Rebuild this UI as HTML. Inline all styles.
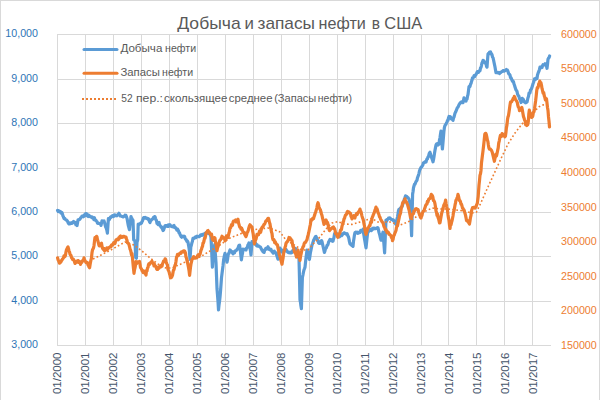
<!DOCTYPE html>
<html><head><meta charset="utf-8"><title>chart</title>
<style>html,body{margin:0;padding:0;background:#fff;width:600px;height:400px;overflow:hidden}body{font-family:"Liberation Sans",sans-serif}</style>
</head><body>
<svg width="600" height="400" viewBox="0 0 600 400" style="position:absolute;left:0;top:0">
<rect x="0.5" y="0.5" width="599" height="400" fill="#fff" stroke="#d9d9d9" stroke-width="1"/>
<g stroke="#d9d9d9" stroke-width="1" fill="none"><line x1="57" y1="34.50" x2="551" y2="34.50"/><line x1="57" y1="79.50" x2="551" y2="79.50"/><line x1="57" y1="123.50" x2="551" y2="123.50"/><line x1="57" y1="168.50" x2="551" y2="168.50"/><line x1="57" y1="212.50" x2="551" y2="212.50"/><line x1="57" y1="256.50" x2="551" y2="256.50"/><line x1="57" y1="301.50" x2="551" y2="301.50"/><line x1="57" y1="345.50" x2="551" y2="345.50"/><line x1="57.50" y1="34.0" x2="57.50" y2="346.0"/><line x1="85.50" y1="34.0" x2="85.50" y2="346.0"/><line x1="113.50" y1="34.0" x2="113.50" y2="346.0"/><line x1="141.50" y1="34.0" x2="141.50" y2="346.0"/><line x1="169.50" y1="34.0" x2="169.50" y2="346.0"/><line x1="197.50" y1="34.0" x2="197.50" y2="346.0"/><line x1="225.50" y1="34.0" x2="225.50" y2="346.0"/><line x1="253.50" y1="34.0" x2="253.50" y2="346.0"/><line x1="281.50" y1="34.0" x2="281.50" y2="346.0"/><line x1="309.50" y1="34.0" x2="309.50" y2="346.0"/><line x1="337.50" y1="34.0" x2="337.50" y2="346.0"/><line x1="365.50" y1="34.0" x2="365.50" y2="346.0"/><line x1="393.50" y1="34.0" x2="393.50" y2="346.0"/><line x1="421.50" y1="34.0" x2="421.50" y2="346.0"/><line x1="448.50" y1="34.0" x2="448.50" y2="346.0"/><line x1="476.50" y1="34.0" x2="476.50" y2="346.0"/><line x1="504.50" y1="34.0" x2="504.50" y2="346.0"/><line x1="532.50" y1="34.0" x2="532.50" y2="346.0"/></g>
<polyline points="57.6,210.5 58.1,211.4 58.7,210.7 59.2,211.6 59.8,211.4 60.4,211.5 60.9,213.0 61.5,212.7 62.0,212.6 62.5,214.3 63.0,216.1 63.5,216.9 64.0,218.5 64.6,218.3 65.1,219.0 65.7,219.7 66.2,219.9 66.8,220.3 67.3,220.8 67.9,222.2 68.4,223.3 69.0,224.0 69.6,224.0 70.1,223.0 70.7,223.2 71.3,223.2 71.9,223.4 72.4,222.4 73.0,222.0 73.6,221.5 74.1,222.5 74.7,222.1 75.3,222.7 75.9,224.7 76.4,223.8 77.0,225.6 77.5,223.0 78.0,219.9 78.6,219.8 79.1,219.6 79.7,219.5 80.3,218.5 80.9,217.6 81.4,217.0 82.0,216.2 82.5,216.4 83.0,215.9 83.5,216.7 84.0,215.1 84.6,214.8 85.1,214.7 85.6,213.8 86.1,215.7 86.6,213.7 87.1,214.6 87.7,214.9 88.2,216.5 88.8,215.1 89.3,216.5 89.9,216.2 90.5,216.5 91.0,216.5 91.6,217.5 92.1,217.0 92.7,217.6 93.3,218.2 93.9,219.6 94.4,217.7 95.0,219.5 95.5,220.4 96.0,220.4 96.5,221.2 97.0,221.5 97.5,223.2 98.0,223.5 98.5,223.3 99.0,223.4 99.5,223.5 100.0,223.8 100.5,223.6 101.0,225.4 101.5,223.1 102.0,220.8 102.5,221.6 103.0,221.6 103.5,221.6 104.0,220.9 104.6,222.7 105.1,224.8 105.7,227.1 106.3,228.3 106.8,229.9 107.4,233.1 107.9,226.2 108.4,218.7 108.9,220.0 109.4,219.4 109.9,218.2 110.4,217.2 111.0,217.5 111.5,216.7 112.0,216.1 112.5,215.6 113.0,215.6 113.5,216.5 114.1,215.8 114.6,214.8 115.2,215.6 115.7,215.4 116.3,215.6 116.8,215.8 117.4,214.9 117.9,214.5 118.5,214.2 119.0,213.3 119.6,214.6 120.1,215.9 120.7,216.0 121.3,216.1 121.9,216.4 122.4,216.6 123.0,216.9 123.5,216.7 124.0,216.2 124.5,216.1 125.0,215.1 125.5,215.7 126.0,215.5 126.6,217.3 127.1,218.7 127.7,222.1 128.3,225.6 128.8,227.3 129.4,229.6 129.9,225.2 130.5,221.5 131.0,216.5 131.5,218.2 132.0,218.5 132.5,219.8 133.0,220.2 133.7,240.0 134.3,240.1 135.0,241.2 135.7,257.5 136.4,258.2 137.0,242.2 137.7,239.7 138.2,224.1 138.8,224.6 139.4,224.2 140.0,223.8 140.5,223.2 141.0,223.4 141.5,223.0 142.0,221.6 142.5,220.8 143.0,219.2 143.5,217.7 144.0,217.5 144.6,218.0 145.1,217.4 145.7,217.8 146.3,218.4 146.9,218.2 147.4,218.5 148.0,219.3 148.5,218.8 149.0,220.3 149.5,221.6 150.0,222.5 150.5,220.7 151.0,220.6 151.5,219.5 152.0,219.5 152.5,219.1 153.0,218.3 153.5,217.4 154.0,217.0 154.5,217.6 155.0,216.6 155.5,218.4 156.0,219.9 156.5,220.7 157.0,223.4 157.5,223.1 158.0,224.5 158.5,222.9 159.0,222.4 159.5,224.5 160.0,225.4 160.5,226.0 161.0,227.0 161.5,226.8 162.0,228.2 162.5,229.0 163.0,230.5 163.5,230.1 164.0,228.7 164.5,227.5 165.0,225.7 165.6,225.5 166.1,225.7 166.7,225.5 167.2,226.2 167.8,225.2 168.3,226.4 168.9,225.0 169.4,225.7 170.0,224.8 170.6,226.2 171.1,226.0 171.7,226.3 172.3,226.8 172.9,226.3 173.4,226.0 174.0,225.5 174.6,227.6 175.1,227.5 175.7,227.8 176.3,228.5 176.9,230.2 177.4,229.0 178.0,229.9 178.5,231.0 179.0,232.7 179.5,232.8 180.0,234.4 180.6,235.5 181.1,236.6 181.7,237.2 182.3,236.2 182.9,236.5 183.4,236.7 184.0,236.2 184.6,236.5 185.1,238.4 185.7,239.3 186.3,239.8 186.9,241.3 187.4,241.0 188.0,242.2 188.7,246.1 189.3,250.0 190.0,259.3 190.8,247.2 191.4,245.0 191.9,242.8 192.4,241.5 193.0,238.3 193.5,238.6 194.0,238.3 194.5,237.6 195.0,237.8 195.5,236.9 196.0,237.6 196.6,236.5 197.1,236.2 197.7,236.4 198.3,236.7 198.9,236.7 199.4,236.6 200.0,235.8 200.6,234.9 201.1,235.4 201.7,235.3 202.3,234.4 202.9,235.1 203.4,234.8 204.0,233.9 204.6,234.3 205.1,233.3 205.7,233.1 206.2,233.7 206.8,232.7 207.3,233.1 207.9,232.4 208.4,233.2 209.0,232.6 209.5,233.9 210.0,234.1 210.5,235.4 211.0,237.3 211.5,247.4 211.9,256.1 212.4,267.2 212.9,259.1 213.5,250.0 214.1,248.4 214.7,244.7 215.3,253.3 216.0,262.6 216.5,275.8 217.0,288.7 217.5,294.8 218.0,301.4 218.5,309.8 219.0,305.1 219.5,301.5 220.0,297.0 220.5,291.3 221.0,284.6 221.5,277.6 222.0,273.6 222.5,269.8 223.0,265.9 223.7,259.2 224.3,256.2 225.0,253.4 225.5,254.9 226.0,258.1 226.5,259.6 227.0,262.1 227.5,259.7 228.0,256.0 228.5,253.5 229.0,253.3 229.5,251.4 230.0,250.0 230.5,250.5 231.0,251.4 231.5,251.3 232.0,252.3 232.5,252.9 233.0,253.8 233.5,252.0 234.0,252.9 234.5,252.7 235.0,251.0 235.5,250.7 236.0,250.7 236.5,250.4 237.0,249.4 237.5,249.3 238.1,247.9 238.6,246.3 239.1,245.3 239.6,245.2 240.2,249.4 240.8,254.7 241.4,259.8 241.9,256.3 242.5,253.2 243.0,249.2 243.5,249.4 244.0,249.3 244.5,249.5 245.0,249.2 245.5,249.9 246.0,250.0 246.5,248.3 247.0,247.6 247.5,246.6 248.0,244.8 248.5,244.3 249.0,242.9 249.5,246.2 250.0,248.5 250.5,250.9 251.0,255.0 251.5,248.2 252.0,241.5 252.6,242.0 253.1,243.1 253.7,242.9 254.3,243.8 254.9,243.5 255.4,242.9 256.0,244.1 256.6,245.8 257.1,244.8 257.7,246.2 258.3,245.9 258.9,246.1 259.4,246.6 260.0,247.1 260.5,247.1 261.0,248.2 261.5,249.2 262.0,250.3 262.5,250.1 263.0,251.8 263.6,252.1 264.1,252.4 264.7,250.0 265.2,249.8 265.8,248.3 266.3,248.8 266.9,248.9 267.4,247.7 268.0,246.8 268.6,248.2 269.1,249.4 269.7,249.3 270.3,250.0 270.9,249.2 271.4,250.3 272.0,251.7 272.6,252.1 273.1,253.2 273.7,252.1 274.3,251.1 274.9,252.4 275.4,252.4 276.0,253.0 276.5,254.7 277.0,256.0 277.5,257.8 278.0,259.2 278.5,255.0 279.0,252.8 279.5,251.6 280.0,248.2 280.5,249.3 281.0,249.6 281.5,249.8 282.0,251.6 282.5,252.3 283.0,252.2 283.5,252.3 284.0,250.8 284.5,250.4 285.0,250.9 285.5,250.5 286.0,249.4 286.6,250.5 287.1,251.1 287.7,252.1 288.3,252.6 288.9,252.3 289.4,252.4 290.0,252.8 290.5,252.3 291.0,252.8 291.5,252.8 292.0,252.3 292.5,251.3 293.0,250.2 293.5,250.4 294.0,249.7 294.5,249.7 295.0,248.4 295.5,248.5 296.0,249.6 296.5,250.1 297.0,251.0 297.5,253.0 298.0,255.8 298.5,257.7 299.0,258.3 299.5,278.8 300.0,299.9 300.5,302.4 300.9,305.8 301.4,308.7 301.9,292.5 302.4,277.3 302.9,275.1 303.4,272.5 304.0,269.8 304.5,268.6 305.0,267.2 305.5,262.3 306.0,257.9 306.5,254.2 307.0,250.0 307.6,252.0 308.2,255.6 308.8,257.1 309.4,259.4 309.9,256.2 310.4,252.8 311.0,249.9 311.5,247.4 312.0,244.9 312.6,243.6 313.1,242.0 313.7,240.0 314.3,239.1 314.9,237.6 315.4,236.8 316.0,236.5 316.5,237.6 317.0,238.7 317.5,239.5 318.0,241.1 318.5,242.7 319.0,243.4 319.5,243.0 320.0,243.3 320.5,241.6 321.0,241.4 321.5,240.6 322.0,241.5 322.6,244.3 323.2,247.0 323.8,249.7 324.4,252.4 324.9,251.1 325.4,248.8 326.0,248.2 326.5,247.5 327.0,245.3 327.5,245.2 328.0,244.5 328.5,242.3 329.0,241.4 329.5,240.6 330.0,239.5 330.5,240.2 331.0,239.6 331.5,240.1 332.0,240.6 332.5,241.3 333.0,241.2 333.5,238.9 334.0,237.4 334.5,234.0 335.0,233.1 335.6,233.4 336.1,233.3 336.7,234.1 337.3,234.0 337.9,234.1 338.4,235.5 339.0,236.2 339.6,236.7 340.1,235.7 340.7,234.7 341.3,234.3 341.9,235.5 342.4,234.7 343.0,233.7 343.6,233.2 344.1,232.8 344.7,233.1 345.3,233.5 345.9,234.0 346.4,234.1 347.0,233.6 347.5,234.7 348.0,236.1 348.5,236.9 349.0,239.1 349.5,241.9 350.0,243.7 350.5,244.4 351.0,243.9 351.5,245.2 352.0,245.6 352.5,245.8 353.0,246.3 353.5,241.3 354.0,238.2 354.5,234.6 355.0,232.7 355.6,232.3 356.1,232.1 356.7,232.8 357.3,232.1 357.9,233.4 358.4,232.7 359.0,232.9 359.6,232.0 360.1,232.4 360.7,230.5 361.3,231.2 361.9,230.3 362.4,230.3 363.0,229.2 363.5,232.7 364.0,235.7 364.5,238.9 365.0,241.7 365.5,244.7 366.0,247.8 366.5,243.1 367.0,238.3 367.5,234.0 368.0,231.0 368.6,230.5 369.1,231.0 369.7,230.4 370.3,229.3 370.9,229.9 371.4,230.6 372.0,229.4 372.5,228.5 373.1,228.2 373.6,229.0 374.2,228.4 374.7,228.2 375.3,228.7 375.8,228.5 376.4,228.4 376.9,227.9 377.5,227.6 378.0,227.9 378.5,230.1 379.0,232.4 379.5,233.9 380.0,236.1 380.5,238.3 381.0,240.2 381.5,238.4 382.0,236.8 382.5,234.4 383.0,232.2 383.5,238.5 384.1,246.0 384.6,252.9 385.1,241.8 385.5,230.4 386.0,220.1 386.5,221.2 387.0,220.2 387.5,219.4 388.0,219.1 388.5,218.1 389.0,218.0 389.6,217.9 390.1,218.1 390.7,218.9 391.2,219.4 391.8,219.6 392.3,219.5 392.9,220.3 393.4,220.0 394.0,221.2 394.5,221.6 395.0,222.4 395.5,223.7 396.0,224.5 396.5,221.1 397.0,219.0 397.5,217.1 398.0,214.0 398.5,210.6 399.0,209.3 399.5,209.0 400.0,208.8 400.5,208.1 401.0,207.5 401.5,206.9 402.0,206.9 402.5,205.2 403.0,203.6 403.5,201.5 404.0,200.7 404.5,198.7 405.0,197.5 405.5,195.9 406.0,196.7 406.5,196.8 407.0,196.7 407.5,197.6 408.0,197.5 408.5,198.4 409.0,199.2 409.5,201.8 410.0,202.9 410.5,213.7 411.1,223.8 411.6,235.7 412.1,215.1 412.6,194.1 413.1,191.3 413.5,187.7 414.0,186.0 414.5,184.3 415.0,184.2 415.5,182.8 416.0,181.6 416.5,181.0 417.0,180.1 417.5,177.7 418.0,176.4 418.5,175.2 419.0,173.3 419.5,170.8 420.0,169.5 420.6,168.2 421.1,167.3 421.7,166.8 422.3,165.9 422.9,164.8 423.4,162.9 424.0,162.8 424.5,162.3 425.0,161.7 425.5,161.5 426.0,162.1 426.5,160.2 427.0,158.9 427.5,158.7 428.0,156.9 428.5,156.6 429.0,154.3 429.5,152.9 430.0,152.3 430.5,154.3 431.0,155.9 431.5,157.5 432.0,158.8 432.5,160.1 433.0,161.8 433.5,159.7 434.0,156.7 434.5,153.3 435.0,150.3 435.5,147.6 436.0,145.0 436.5,144.1 437.0,143.7 437.5,143.7 438.0,145.0 438.5,144.0 439.0,144.1 439.5,139.8 440.0,137.8 440.5,134.0 441.0,131.1 441.5,136.9 441.9,142.9 442.4,149.0 442.9,143.5 443.4,137.7 443.9,131.6 444.4,127.5 444.9,125.8 445.4,124.7 445.9,124.5 446.4,123.2 447.0,121.8 447.5,120.5 448.0,120.3 448.5,117.9 449.0,116.4 449.6,117.3 450.1,116.6 450.7,117.3 451.3,119.0 451.9,119.0 452.4,119.6 453.0,120.4 453.5,118.0 454.0,117.0 454.5,115.1 455.0,113.2 455.6,112.1 456.1,110.9 456.7,109.4 457.3,107.8 457.9,107.2 458.4,106.3 459.0,104.7 459.6,103.9 460.1,102.9 460.7,102.4 461.3,101.9 461.9,102.3 462.4,102.7 463.0,102.7 463.5,100.3 464.0,97.9 464.5,98.6 465.0,99.1 465.5,99.9 466.0,101.0 466.5,99.0 467.0,99.2 467.5,96.3 468.0,94.6 468.5,90.6 469.0,86.8 469.5,86.1 470.0,86.5 470.5,84.2 471.0,83.6 471.5,81.5 472.0,80.1 472.5,77.9 473.0,78.1 473.6,76.9 474.1,75.7 474.7,76.6 475.3,75.3 475.9,74.6 476.4,73.7 477.0,72.6 477.5,71.5 478.0,71.5 478.5,72.3 479.0,71.6 479.5,70.6 480.0,70.7 480.5,68.0 481.0,67.4 481.5,65.3 482.0,62.9 482.5,61.9 483.0,60.4 483.5,60.5 484.0,61.1 484.5,62.1 485.0,63.1 485.5,63.2 486.0,62.9 486.5,66.3 487.0,67.1 487.5,60.3 488.0,54.2 488.5,53.4 489.0,53.7 489.5,52.3 490.0,52.1 490.5,51.9 491.0,53.8 491.5,53.7 492.0,54.7 492.5,57.1 493.0,57.7 493.5,59.8 494.0,62.3 494.5,64.7 495.0,67.0 495.5,70.0 496.0,72.7 496.5,72.1 497.0,72.2 497.5,72.8 498.0,72.9 498.5,73.0 499.0,72.4 499.6,73.5 500.1,72.6 500.7,72.4 501.3,71.9 501.9,71.6 502.4,71.4 503.0,70.6 503.6,70.8 504.1,71.2 504.7,70.7 505.3,70.5 505.9,70.1 506.4,69.5 507.0,70.2 507.5,70.2 508.0,71.6 508.5,73.2 509.0,74.1 509.5,74.4 510.0,75.2 510.5,77.6 511.0,77.7 511.5,78.9 512.0,80.3 512.5,81.2 513.0,81.0 513.5,81.8 514.0,84.0 514.5,85.3 515.0,86.9 515.5,88.5 516.0,90.0 516.5,90.6 517.0,91.4 517.5,94.0 518.0,95.0 518.5,95.8 519.0,96.5 519.5,98.8 520.0,99.4 520.5,100.4 521.0,102.5 521.6,100.4 522.2,98.4 522.8,99.1 523.4,99.4 524.0,101.6 524.5,102.1 525.0,102.0 525.5,102.8 526.0,102.7 526.5,101.7 527.0,102.1 527.5,100.0 528.0,97.7 528.5,96.5 529.0,93.2 529.5,93.3 530.0,92.8 530.5,90.1 531.0,89.5 531.5,88.7 532.0,87.2 532.5,85.6 533.0,83.8 533.5,82.5 534.0,80.6 534.5,78.9 535.0,79.8 535.5,79.6 536.0,78.1 536.5,78.1 537.0,78.4 537.5,75.1 538.0,73.6 538.5,72.0 539.0,71.1 539.5,69.4 540.0,67.1 540.5,67.9 541.0,67.0 541.5,66.9 542.0,67.5 542.5,65.7 543.0,64.8 543.5,65.1 544.0,64.5 544.5,64.4 545.0,63.8 545.5,65.1 546.0,64.1 546.5,66.1 547.0,68.3 547.5,64.4 548.0,59.2 548.5,58.2 549.1,57.6 549.6,56.0" fill="none" stroke="#5b9bd5" stroke-width="3.2" stroke-linejoin="round" stroke-linecap="round"/>
<polyline points="57.6,257.8 58.1,259.8 58.6,260.9 59.1,262.2 59.6,263.2 60.2,262.3 60.8,262.2 61.4,260.8 62.0,260.0 62.5,259.1 63.0,258.5 63.5,257.8 64.0,255.8 64.5,256.8 65.0,256.5 65.5,255.1 66.0,251.8 66.5,249.7 67.0,248.7 67.5,247.7 68.0,246.9 68.5,248.7 69.0,250.9 69.5,251.9 70.0,254.1 70.5,255.2 71.0,255.3 71.5,257.7 72.0,258.2 72.5,259.4 73.0,258.9 73.5,259.4 74.0,260.5 74.5,261.7 75.0,263.4 75.5,263.0 76.0,262.1 76.5,261.2 77.0,261.0 77.5,262.1 78.0,260.6 78.5,261.6 79.0,262.4 79.5,261.4 80.0,262.7 80.5,264.4 81.0,262.7 81.5,262.5 82.0,262.0 82.5,260.7 83.0,260.8 83.5,259.8 84.0,257.8 84.5,259.8 85.0,260.6 85.5,261.5 86.0,262.5 86.5,262.3 87.0,262.4 87.5,262.5 88.0,265.0 88.6,265.8 89.1,267.1 89.6,267.8 90.2,264.1 90.8,260.7 91.4,258.5 92.0,252.6 92.5,250.0 93.0,248.9 93.5,248.0 94.0,245.5 94.5,241.1 95.0,237.6 95.5,238.6 96.0,237.5 96.5,236.3 97.0,237.0 97.5,239.7 98.0,241.3 98.5,243.3 99.0,245.5 99.5,245.9 100.0,245.0 100.5,244.3 101.0,243.7 101.5,243.3 102.0,246.3 102.5,248.0 103.0,249.1 103.5,248.4 104.0,250.0 104.6,250.9 105.1,248.8 105.7,249.1 106.3,249.9 106.9,248.0 107.4,249.4 108.0,248.8 108.6,247.7 109.1,247.5 109.7,247.3 110.3,246.6 110.9,246.9 111.4,245.3 112.0,244.6 112.6,245.1 113.1,244.1 113.7,242.7 114.3,243.3 114.9,243.5 115.4,241.7 116.0,239.9 116.6,239.9 117.1,239.6 117.7,238.9 118.3,239.7 118.9,237.7 119.4,238.4 120.0,236.3 120.5,236.0 121.0,236.9 121.5,237.5 122.0,237.4 122.5,236.8 123.0,236.3 123.5,236.4 124.0,236.9 124.5,236.5 125.0,236.9 125.5,237.4 126.0,237.2 126.5,239.0 127.0,240.4 127.5,242.8 128.0,243.2 128.5,243.6 129.0,244.7 129.5,246.5 130.0,249.0 130.5,250.0 131.0,252.0 131.5,254.9 132.0,253.5 132.5,258.1 133.0,263.7 133.5,268.7 134.0,273.3 134.5,270.0 135.0,267.9 135.5,265.1 136.0,261.7 136.5,263.8 137.0,262.9 137.5,261.9 138.0,261.9 138.5,261.8 139.0,261.9 139.5,261.5 140.0,264.3 140.5,267.6 141.0,268.2 141.6,269.2 142.1,270.8 142.7,271.6 143.2,272.7 143.8,270.9 144.3,271.8 144.9,272.4 145.4,273.8 146.0,275.0 146.5,270.5 147.0,270.9 147.5,267.9 148.0,267.5 148.5,264.5 149.0,263.7 149.5,264.4 150.0,263.2 150.5,262.7 151.0,262.7 151.5,261.9 152.0,261.1 152.5,262.9 153.0,263.6 153.5,263.2 154.0,265.9 154.5,264.2 155.0,265.7 155.5,266.0 156.0,267.1 156.5,268.6 157.0,269.4 157.5,269.5 158.0,267.7 158.5,266.9 159.0,268.3 159.5,267.4 160.0,266.9 160.5,265.6 161.0,266.8 161.5,266.3 162.0,266.1 162.5,263.6 163.0,262.9 163.5,261.1 164.0,261.3 164.6,261.4 165.1,258.8 165.6,259.2 166.2,261.9 166.8,263.8 167.4,264.8 168.0,269.6 168.5,270.6 169.0,271.6 169.5,273.7 170.0,275.4 170.5,277.8 171.0,277.7 171.5,277.3 172.0,276.5 172.5,275.2 173.0,272.4 173.5,270.1 174.0,269.7 174.5,267.3 175.0,265.2 175.5,264.2 176.0,261.2 176.5,257.2 177.0,256.1 177.5,254.5 178.0,255.7 178.5,255.3 179.0,253.9 179.5,253.5 180.0,253.6 180.5,252.8 181.0,253.2 181.5,251.9 182.0,252.0 182.5,252.0 183.0,251.8 183.5,250.9 184.0,252.2 184.5,251.0 185.0,251.7 185.5,253.0 186.0,257.1 186.5,258.1 187.0,260.7 187.5,262.7 188.0,264.9 188.5,267.5 189.1,271.0 189.6,275.4 190.1,270.9 190.5,267.3 191.0,264.0 191.5,261.9 192.0,259.6 192.5,258.5 193.0,258.6 193.6,256.7 194.1,256.8 194.7,258.1 195.3,258.2 195.9,257.6 196.4,257.9 197.0,257.4 197.5,255.9 198.0,254.8 198.5,255.0 199.0,256.0 199.5,255.0 200.0,254.2 200.5,252.4 201.0,250.1 201.5,249.4 202.0,247.2 202.5,246.6 203.0,243.1 203.5,242.9 204.0,241.0 204.5,238.2 205.0,238.3 205.5,236.4 206.0,233.1 206.5,232.4 207.0,232.3 207.5,230.8 208.0,230.5 208.5,231.4 209.0,232.1 209.5,232.5 210.0,233.9 210.5,234.3 211.0,234.7 211.5,234.1 212.0,237.2 212.5,239.6 213.0,240.2 213.5,239.2 214.0,240.4 214.5,237.6 215.0,238.1 215.5,242.7 216.0,243.4 216.5,246.8 217.0,250.7 217.5,248.0 218.0,246.6 218.5,245.4 219.0,242.6 219.5,241.3 220.0,240.2 220.5,240.0 221.0,238.7 221.5,237.7 222.0,236.2 222.5,236.8 223.0,238.2 223.5,238.3 224.0,237.7 224.5,237.8 225.0,240.8 225.5,240.1 226.0,239.1 226.5,235.8 227.0,236.9 227.5,236.8 228.0,237.5 228.5,235.2 229.0,232.9 229.5,231.5 230.0,228.0 230.5,228.0 231.0,226.4 231.5,224.7 232.0,225.2 232.5,225.3 233.0,222.2 233.5,221.1 234.0,221.0 234.6,221.1 235.1,220.6 235.7,219.9 236.3,222.0 236.9,221.9 237.4,220.0 238.0,219.2 238.5,222.8 239.0,224.4 239.5,226.5 240.0,227.4 240.5,227.3 241.0,229.1 241.6,228.1 242.1,229.4 242.7,230.9 243.2,232.4 243.8,232.4 244.3,233.4 244.9,234.7 245.4,235.6 246.0,236.6 246.6,234.8 247.1,232.7 247.7,231.9 248.3,230.0 248.9,227.6 249.4,225.9 250.0,224.8 250.5,225.3 251.0,226.1 251.5,226.5 252.0,227.1 252.6,230.9 253.2,234.0 253.8,239.0 254.4,243.8 254.9,242.2 255.4,240.3 256.0,239.2 256.5,236.8 257.0,234.3 257.5,234.9 258.0,234.1 258.5,234.8 259.0,233.2 259.5,231.1 260.0,231.3 260.6,232.4 261.1,230.4 261.7,228.0 262.3,226.9 262.9,226.6 263.4,225.7 264.0,224.3 264.6,224.3 265.1,223.0 265.7,221.3 266.3,220.6 266.9,220.5 267.4,219.3 268.0,218.3 268.5,218.3 269.0,220.2 269.5,222.7 270.0,223.9 270.5,227.2 271.0,229.4 271.5,232.0 272.0,233.5 272.5,237.8 273.0,239.7 273.6,239.3 274.1,239.9 274.7,242.7 275.3,241.9 275.9,243.2 276.4,244.2 277.0,244.4 277.5,245.2 278.0,247.9 278.5,250.2 279.0,253.0 279.5,255.0 280.0,256.4 280.5,258.8 281.0,260.7 281.5,262.4 282.0,264.2 282.5,260.9 283.0,258.5 283.5,254.3 284.0,251.3 284.5,250.1 285.0,247.4 285.5,246.2 286.0,243.4 286.5,242.5 287.0,242.0 287.5,241.6 288.0,240.5 288.5,239.4 289.0,237.5 289.5,238.9 290.0,237.8 290.5,239.4 291.0,239.2 291.5,240.5 292.0,240.5 292.5,244.1 293.0,246.8 293.5,246.8 294.0,249.5 294.5,252.3 295.0,252.7 295.5,253.4 296.0,255.1 296.5,257.0 297.0,253.8 297.5,252.2 298.0,250.0 298.5,252.8 299.0,255.2 299.5,258.2 300.0,260.4 300.5,256.5 301.0,254.4 301.5,251.9 302.0,249.8 302.5,248.5 303.0,246.8 303.6,246.3 304.1,243.8 304.7,242.6 305.3,242.5 305.9,241.7 306.4,240.6 307.0,239.8 307.6,236.8 308.1,235.2 308.7,232.7 309.3,229.8 309.9,226.6 310.4,224.3 311.0,219.7 311.5,219.7 312.0,220.1 312.5,218.6 313.0,219.0 313.5,218.7 314.0,216.9 314.6,215.3 315.1,213.3 315.7,211.8 316.3,210.0 316.9,207.5 317.4,204.5 318.0,202.7 318.5,204.5 319.0,206.9 319.5,208.4 320.0,209.2 320.5,210.1 321.0,212.3 321.5,214.0 322.0,215.5 322.5,218.0 323.0,219.8 323.5,222.1 324.0,224.4 324.5,222.6 325.0,223.3 325.5,220.6 326.0,220.0 326.5,221.1 327.0,223.4 327.5,222.5 328.0,224.5 328.5,227.1 329.0,229.4 329.5,230.7 330.0,229.3 330.5,229.4 331.0,228.8 331.5,228.5 332.0,227.8 332.5,227.4 333.0,228.0 333.5,227.0 334.0,228.7 334.6,228.7 335.1,230.6 335.7,233.6 336.3,233.6 336.9,234.6 337.4,236.7 338.0,237.4 338.5,235.1 339.0,234.4 339.5,233.5 340.0,232.4 340.5,230.0 341.0,230.3 341.5,229.1 342.0,226.3 342.5,224.4 343.0,222.1 343.5,221.7 344.0,218.8 344.5,218.3 345.0,216.4 345.5,214.9 346.0,214.7 346.5,214.4 347.0,212.4 347.5,211.5 348.0,212.4 348.5,211.9 349.0,212.0 349.5,213.0 350.0,213.0 350.5,213.3 351.0,216.6 351.5,217.0 352.0,218.9 352.6,217.5 353.1,217.3 353.7,215.7 354.3,217.8 354.9,218.0 355.4,215.8 356.0,214.6 356.6,213.4 357.1,214.6 357.7,213.2 358.3,212.4 358.9,211.4 359.4,210.7 360.0,209.1 360.5,211.2 361.0,211.7 361.5,214.0 362.0,216.1 362.5,217.9 363.0,219.0 363.5,220.8 364.0,223.9 364.5,226.1 365.0,230.1 365.5,232.5 366.0,234.3 366.5,232.4 367.0,230.7 367.5,229.0 368.0,228.0 368.5,227.4 369.0,226.4 369.5,225.4 370.0,225.6 370.5,222.6 371.0,221.4 371.5,222.4 372.0,218.3 372.6,216.6 373.1,215.5 373.7,213.9 374.3,212.5 374.9,210.4 375.4,209.0 376.0,207.1 376.5,209.2 377.0,208.7 377.5,210.3 378.0,212.6 378.5,213.5 379.0,214.8 379.5,216.9 380.0,217.2 380.5,218.8 381.0,220.0 381.5,220.7 382.0,221.6 382.5,222.5 383.0,222.6 383.5,224.6 384.0,226.6 384.5,227.3 385.0,228.8 385.5,230.0 386.0,229.5 386.5,230.8 387.0,232.6 387.5,231.6 388.0,232.2 388.5,232.4 389.0,234.2 389.5,234.2 390.0,235.0 390.5,235.0 391.0,236.3 391.5,237.6 392.0,237.4 392.5,240.7 393.1,239.3 393.7,235.6 394.2,235.2 394.8,233.3 395.4,232.0 396.0,230.4 396.5,227.3 397.0,226.1 397.5,226.0 398.0,223.2 398.5,220.8 399.0,218.6 399.5,215.9 400.0,214.4 400.5,213.3 401.0,210.1 401.5,207.1 402.0,206.0 402.5,203.6 403.0,202.2 403.5,202.3 404.0,201.9 404.5,200.0 405.0,198.8 405.5,200.8 406.0,202.1 406.5,202.0 407.0,203.5 407.5,204.4 408.0,206.2 408.5,208.0 409.0,209.9 409.5,211.7 410.0,214.7 410.5,217.4 411.0,218.2 411.5,217.6 412.0,215.3 412.5,214.4 413.0,213.9 413.5,213.6 414.0,211.2 414.5,210.7 415.0,210.5 415.5,208.9 416.0,209.3 416.5,208.7 417.0,209.1 417.6,209.4 418.1,209.7 418.7,212.2 419.3,214.1 419.9,215.0 420.4,217.3 421.0,218.0 421.5,216.2 422.0,215.5 422.5,212.8 423.0,211.7 423.5,211.0 424.0,210.6 424.6,208.6 425.1,207.4 425.7,205.3 426.3,204.4 426.9,204.2 427.4,201.4 428.0,201.9 428.6,199.5 429.1,198.8 429.6,198.3 430.2,198.4 430.8,196.2 431.3,194.3 431.8,195.4 432.4,195.6 432.9,197.3 433.4,200.5 434.0,200.8 434.5,201.9 435.0,203.9 435.5,206.9 436.0,211.0 436.5,212.3 437.0,215.5 437.5,214.1 438.0,217.6 438.5,218.6 439.0,220.6 439.5,222.9 440.0,222.7 440.5,219.7 441.0,216.9 441.5,214.2 442.0,211.9 442.5,210.6 443.0,208.1 443.5,206.5 444.0,204.7 444.6,203.9 445.1,202.2 445.6,200.1 446.2,204.1 446.8,207.1 447.4,209.6 448.0,214.9 448.5,218.2 449.0,220.5 449.5,225.2 450.0,228.5 450.5,224.9 451.0,224.9 451.5,222.6 452.0,220.9 452.5,218.5 453.0,216.0 453.5,212.1 454.0,211.0 454.5,208.1 455.0,205.2 455.5,202.9 456.0,200.1 456.5,199.6 457.0,197.9 457.5,196.9 458.0,194.3 458.5,196.2 459.0,198.5 459.5,200.6 460.0,200.8 460.5,201.8 461.0,204.2 461.5,204.3 462.0,206.0 462.5,208.1 463.0,208.2 463.5,210.0 464.0,209.8 464.5,211.8 465.0,213.3 465.5,215.1 466.0,217.6 466.5,220.6 467.0,220.3 467.6,220.6 468.2,222.3 468.8,222.2 469.4,224.1 469.9,221.5 470.4,218.0 471.0,215.4 471.5,210.9 472.0,209.2 472.6,207.6 473.1,207.5 473.7,207.4 474.3,207.3 474.9,208.1 475.4,207.5 476.0,206.8 476.6,204.9 477.3,203.4 477.8,199.5 478.2,196.5 479.0,185.2 479.5,180.6 480.0,175.2 480.5,173.7 481.0,170.4 481.5,162.7 482.0,158.7 482.5,154.7 483.0,150.9 483.6,145.8 484.2,140.1 484.8,134.2 485.3,133.5 485.8,133.3 486.3,134.6 486.8,136.8 487.4,140.1 487.9,141.5 488.4,145.0 488.9,147.9 489.4,149.1 490.0,149.0 490.5,149.1 491.1,149.9 491.6,150.7 492.2,152.1 492.7,154.2 493.3,156.6 493.8,158.9 494.4,161.3 494.9,158.4 495.4,157.0 496.0,154.1 496.5,155.9 497.0,153.7 497.6,150.6 498.2,147.8 498.7,143.1 499.3,140.8 499.9,137.5 500.4,135.3 501.0,135.8 501.5,136.3 502.1,133.5 502.6,134.2 503.2,134.6 503.7,135.3 504.3,135.7 504.8,136.8 505.4,136.2 505.9,132.8 506.4,127.9 507.0,124.6 507.5,119.5 508.0,116.9 508.5,115.6 509.0,112.3 509.5,108.8 510.0,105.0 510.5,102.1 511.0,101.9 511.6,101.8 512.1,100.7 512.7,99.8 513.2,98.4 513.8,98.4 514.3,96.4 514.8,97.0 515.3,99.1 515.8,99.9 516.3,100.6 516.8,101.4 517.3,102.6 517.8,105.2 518.4,107.2 519.0,107.8 519.5,110.6 520.1,109.9 520.6,108.3 521.2,108.6 521.8,107.4 522.3,109.8 522.9,113.3 523.5,116.6 524.0,117.9 524.6,120.0 525.1,120.8 525.7,124.7 526.3,125.0 526.8,125.6 527.3,124.1 527.8,124.6 528.3,121.6 528.8,114.0 529.3,110.2 529.8,112.3 530.3,113.3 530.8,114.0 531.3,117.2 531.8,117.4 532.3,116.9 532.8,116.0 533.4,112.2 534.0,111.7 534.5,108.7 535.1,104.5 535.6,101.0 536.2,95.9 536.8,90.0 537.3,87.6 537.8,87.9 538.3,86.5 538.8,83.6 539.3,82.8 539.8,81.1 540.3,83.1 540.9,82.7 541.5,85.3 542.0,88.4 542.6,90.8 543.1,93.1 543.7,92.6 544.3,95.9 544.8,97.3 545.4,99.9 546.0,98.5 546.5,99.0 547.0,103.0 547.5,107.5 548.0,110.4 548.5,116.9 549.0,121.2 549.5,127.0" fill="none" stroke="#ed7d31" stroke-width="3.2" stroke-linejoin="round" stroke-linecap="round"/>
<polyline points="93.0,259.0 101.0,255.0 109.0,251.0 117.0,246.5 125.0,242.0 134.0,245.0 142.0,251.0 150.0,258.0 158.0,264.0 166.0,268.0 172.0,268.0 180.0,264.4 190.0,260.0 200.0,257.0 210.0,251.0 220.0,245.0 230.0,238.0 240.0,234.0 250.0,230.0 260.0,229.0 268.0,228.0 274.0,229.6 280.0,232.0 286.0,240.0 296.0,246.0 302.0,250.0 308.0,250.0 314.0,243.0 320.0,237.0 326.0,229.0 332.0,223.0 338.0,221.6 344.0,224.0 352.0,224.4 360.0,222.0 368.0,219.6 372.0,218.5 378.0,222.0 390.0,222.0 400.0,225.0 408.0,222.0 416.0,217.0 424.0,212.0 432.0,208.0 440.0,209.0 448.0,209.0 456.0,210.0 464.0,211.0 472.0,213.0 476.5,212.0 480.6,203.5 487.5,188.0 494.4,173.0 501.3,158.0 508.0,144.0 515.0,133.0 522.0,124.0 526.0,121.0 531.0,115.0 536.0,109.8 539.0,106.8 542.8,105.0 548.8,104.5" fill="none" stroke="#ed7d31" stroke-width="1.6" stroke-dasharray="1.7 2.3" stroke-linejoin="round"/>
<line x1="84" y1="49.5" x2="117" y2="49.5" stroke="#5b9bd5" stroke-width="3" stroke-linecap="round"/>
<line x1="84" y1="73.3" x2="117" y2="73.3" stroke="#ed7d31" stroke-width="3" stroke-linecap="round"/>
<line x1="82" y1="99" x2="116" y2="99" stroke="#ed7d31" stroke-width="2" stroke-dasharray="2 2"/>
<g font-family="Liberation Sans, sans-serif" font-size="10.6" fill="#595959"><text x="120.4" y="52.2" textLength="42.0" lengthAdjust="spacingAndGlyphs">Добыча</text><text x="165.1" y="52.2" textLength="31.0" lengthAdjust="spacingAndGlyphs">нефти</text><text x="120.4" y="76.3" textLength="39.4" lengthAdjust="spacingAndGlyphs">Запасы</text><text x="162.1" y="76.3" textLength="31.0" lengthAdjust="spacingAndGlyphs">нефти</text><text x="121.3" y="102" textLength="11.3" lengthAdjust="spacingAndGlyphs">52</text><text x="136.0" y="102" textLength="27.0" lengthAdjust="spacingAndGlyphs">пер.:</text><text x="164.0" y="102" textLength="63.3" lengthAdjust="spacingAndGlyphs">скользящее</text><text x="228.8" y="102" textLength="43.7" lengthAdjust="spacingAndGlyphs">среднее</text><text x="274.2" y="102" textLength="42.1" lengthAdjust="spacingAndGlyphs">(Запасы</text><text x="317.8" y="102" textLength="34.1" lengthAdjust="spacingAndGlyphs">нефти)</text></g>
<g font-family="Liberation Sans, sans-serif" font-size="17" fill="#595959"><text x="177.3" y="29" textLength="63.4" lengthAdjust="spacingAndGlyphs">Добыча</text><text x="244.5" y="29" textLength="9.4" lengthAdjust="spacingAndGlyphs">и</text><text x="257.5" y="29" textLength="57.5" lengthAdjust="spacingAndGlyphs">запасы</text><text x="318.6" y="29" textLength="47.3" lengthAdjust="spacingAndGlyphs">нефти</text><text x="371.7" y="29" textLength="8.3" lengthAdjust="spacingAndGlyphs">в</text><text x="384.3" y="29" textLength="37.9" lengthAdjust="spacingAndGlyphs">США</text></g>
<g font-family="Liberation Sans, sans-serif" font-size="10.7" fill="#2e75b6"><text x="38" y="37.4" text-anchor="end">10,000</text><text x="38" y="82.4" text-anchor="end">9,000</text><text x="38" y="126.4" text-anchor="end">8,000</text><text x="38" y="171.4" text-anchor="end">7,000</text><text x="38" y="215.4" text-anchor="end">6,000</text><text x="38" y="259.4" text-anchor="end">5,000</text><text x="38" y="304.4" text-anchor="end">4,000</text><text x="38" y="348.4" text-anchor="end">3,000</text></g>
<g font-family="Liberation Sans, sans-serif" font-size="10.7" fill="#ed7d31"><text x="561.1" y="37.7">600000</text><text x="561.1" y="72.3">550000</text><text x="561.1" y="106.8">500000</text><text x="561.1" y="141.4">450000</text><text x="561.1" y="175.9">400000</text><text x="561.1" y="210.5">350000</text><text x="561.1" y="245.0">300000</text><text x="561.1" y="279.6">250000</text><text x="561.1" y="314.1">200000</text><text x="561.1" y="348.7">150000</text></g>
<g font-family="Liberation Sans, sans-serif" font-size="11" fill="#44546a"><text transform="translate(60.6,394) rotate(-90)" textLength="41.4" lengthAdjust="spacingAndGlyphs">01/2000</text><text transform="translate(88.6,394) rotate(-90)" textLength="41.4" lengthAdjust="spacingAndGlyphs">01/2001</text><text transform="translate(116.6,394) rotate(-90)" textLength="41.4" lengthAdjust="spacingAndGlyphs">01/2002</text><text transform="translate(144.7,394) rotate(-90)" textLength="41.4" lengthAdjust="spacingAndGlyphs">01/2003</text><text transform="translate(172.7,394) rotate(-90)" textLength="41.4" lengthAdjust="spacingAndGlyphs">01/2004</text><text transform="translate(200.7,394) rotate(-90)" textLength="41.4" lengthAdjust="spacingAndGlyphs">01/2005</text><text transform="translate(228.7,394) rotate(-90)" textLength="41.4" lengthAdjust="spacingAndGlyphs">01/2006</text><text transform="translate(256.7,394) rotate(-90)" textLength="41.4" lengthAdjust="spacingAndGlyphs">01/2007</text><text transform="translate(284.7,394) rotate(-90)" textLength="41.4" lengthAdjust="spacingAndGlyphs">01/2008</text><text transform="translate(312.7,394) rotate(-90)" textLength="41.4" lengthAdjust="spacingAndGlyphs">01/2009</text><text transform="translate(340.7,394) rotate(-90)" textLength="41.4" lengthAdjust="spacingAndGlyphs">01/2010</text><text transform="translate(368.7,394) rotate(-90)" textLength="41.4" lengthAdjust="spacingAndGlyphs">01/2011</text><text transform="translate(396.7,394) rotate(-90)" textLength="41.4" lengthAdjust="spacingAndGlyphs">01/2012</text><text transform="translate(424.7,394) rotate(-90)" textLength="41.4" lengthAdjust="spacingAndGlyphs">01/2013</text><text transform="translate(452.7,394) rotate(-90)" textLength="41.4" lengthAdjust="spacingAndGlyphs">01/2014</text><text transform="translate(480.7,394) rotate(-90)" textLength="41.4" lengthAdjust="spacingAndGlyphs">01/2015</text><text transform="translate(508.7,394) rotate(-90)" textLength="41.4" lengthAdjust="spacingAndGlyphs">01/2016</text><text transform="translate(536.6,394) rotate(-90)" textLength="41.4" lengthAdjust="spacingAndGlyphs">01/2017</text></g>
</svg>
</body></html>
